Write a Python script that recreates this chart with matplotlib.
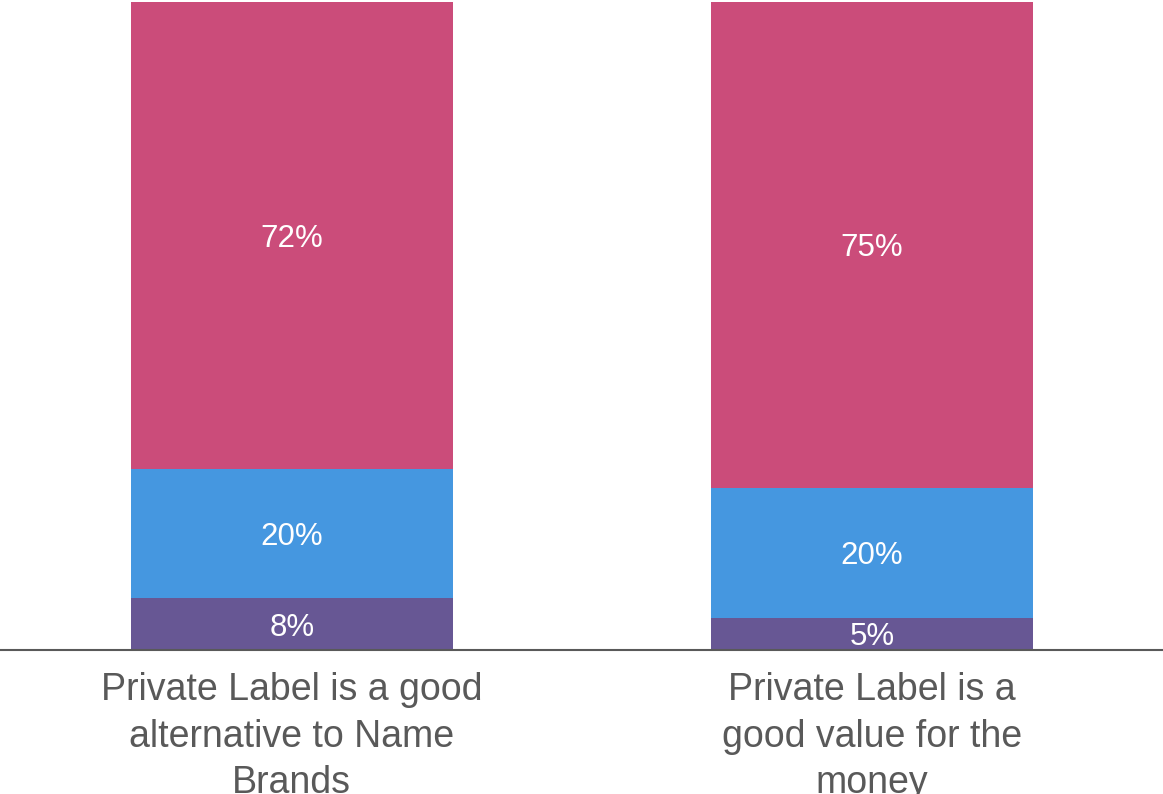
import matplotlib
matplotlib.use("Agg")
import matplotlib.pyplot as plt
import numpy as np

categories = ["Private Label is a good\nalternative to Name\nBrands",
              "Private Label is a\ngood value for the\nmoney"]
bottom_vals = [8, 5]
middle_vals = [20, 20]
top_vals = [72, 75]
series = [bottom_vals, middle_vals, top_vals]
colors = ["#675794", "#4597E0", "#CB4C7A"]

plt.rcParams['font.family'] = ['Liberation Sans', 'DejaVu Sans']

fig = plt.figure(figsize=(11.63, 7.94), dpi=100)
ax = fig.add_axes([0, 144 / 794, 1, 648 / 794])

x = np.arange(len(categories))
width = 0.555
base = np.zeros(len(categories))
for vals, col in zip(series, colors):
    vals = np.array(vals, dtype=float)
    ax.bar(x, vals, width, bottom=base, color=col, linewidth=0)
    for xi, b, v in zip(x, base, vals):
        ax.text(xi, b + v / 2, f"{int(v)}%", ha="center", va="center_baseline",
                color="white", fontsize=22.5)
    base += vals

ax.set_xlim(-0.503, 1.502)
ax.set_ylim(0, 100)
ax.set_xticks(x)
ax.set_xticklabels(categories, fontsize=27, color="#595959", linespacing=1.37)
ax.tick_params(axis="x", length=0, pad=16)
ax.set_yticks([])
for s in ["top", "left", "right"]:
    ax.spines[s].set_visible(False)
ax.spines["bottom"].set_color("#595959")
ax.spines["bottom"].set_linewidth(1.5)

fig.savefig("out.png", dpi=100)
